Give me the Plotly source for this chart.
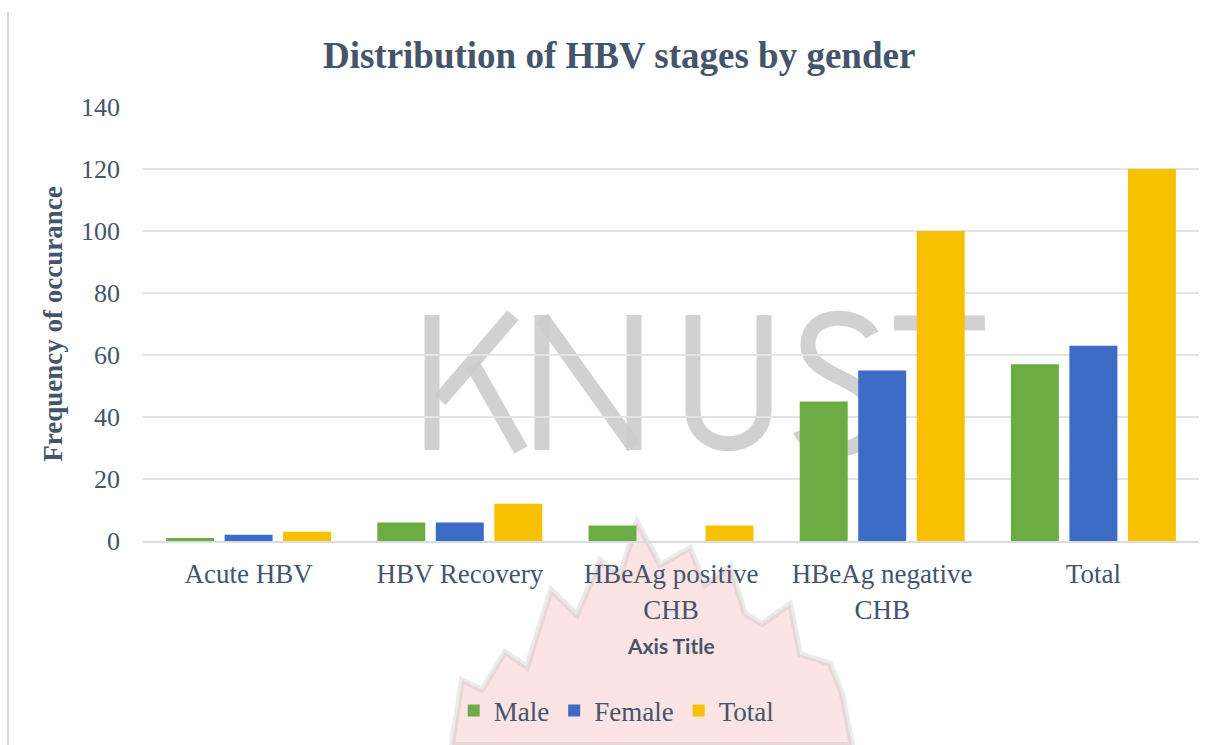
import plotly.graph_objects as go

categories = ["Acute HBV", "HBV Recovery", "HBeAg positive<br>CHB", "HBeAg negative<br>CHB", "Total"]
male = [1, 6, 5, 45, 57]
female = [2, 6, 0, 55, 63]
total = [3, 12, 5, 100, 120]
series_names = ["Male", "Female", "Total"]
series_colors = ["#6DAB43", "#3D6CC6", "#F7C000"]

TEXT = "#44546A"
SERIF = "Liberation Serif, Times New Roman, serif"

fig = go.Figure()
for name, vals, col in zip(series_names, [male, female, total], series_colors):
    fig.add_trace(go.Bar(name=name, x=categories, y=vals, marker=dict(color=col, line=dict(width=0))))

# plot area in pixels (for decorative watermark shapes)
L, R, T, B = 143, 1199, 107, 541
def px(x, y):
    return (x - L) / (R - L), (B - y) / (B - T)

def path(points, close=False):
    s = ""
    for i, (x, y) in enumerate(points):
        a, b = px(x, y)
        s += ("M" if i == 0 else "L") + f"{a:.4f},{b:.4f} "
    if close:
        s += "Z"
    return s

shapes = []
# flame watermark (faint)
flame = [(452, 745), (462, 680), (482, 690), (505, 652), (527, 667), (551, 590), (577, 615),
         (600, 560), (620, 576), (637, 522), (660, 565), (690, 548), (705, 585), (730, 566),
         (745, 614), (762, 624), (790, 604), (800, 654), (830, 664), (842, 694), (852, 745)]
shapes.append(dict(type="path", path=path(flame, True), xref="paper", yref="paper", layer="below",
                   fillcolor="rgba(250,205,205,0.55)", line=dict(color="rgba(175,175,175,0.25)", width=6)))
# KNUST watermark letters
wm = dict(color="rgba(204,204,204,0.9)", width=15)
letters = [
    [(432, 315), (432, 450)],
    [(513, 315), (440, 400)],
    [(473, 365), (521, 450)],
    [(542, 450), (542, 315)],
    [(542, 318), (634, 447)],
    [(634, 450), (634, 315)],
    [(693, 315), (693, 410)],
    [(764, 315), (764, 410)],
    [(894, 323), (985, 323)],
    [(940, 323), (940, 450)],
]
for pts in letters:
    shapes.append(dict(type="path", path=path(pts), xref="paper", yref="paper", layer="below", line=wm))
# U bottom curve
a1 = px(693, 410); a2 = px(693, 455); a3 = px(764, 455); a4 = px(764, 410)
shapes.append(dict(type="path", xref="paper", yref="paper", layer="below", line=wm,
                   path=f"M{a1[0]:.4f},{a1[1]:.4f} C{a2[0]:.4f},{a2[1]:.4f} {a3[0]:.4f},{a3[1]:.4f} {a4[0]:.4f},{a4[1]:.4f}"))
# S (mostly hidden behind bars)
def cub(p0, c1, c2, p1):
    q = [px(*p) for p in (p0, c1, c2, p1)]
    return f"M{q[0][0]:.4f},{q[0][1]:.4f} C{q[1][0]:.4f},{q[1][1]:.4f} {q[2][0]:.4f},{q[2][1]:.4f} {q[3][0]:.4f},{q[3][1]:.4f}"
for seg in [((872, 335), (860, 312), (808, 310), (808, 345)),
            ((808, 345), (808, 380), (874, 375), (874, 415)),
            ((874, 415), (874, 458), (812, 458), (800, 430))]:
    shapes.append(dict(type="path", path=cub(*seg), xref="paper", yref="paper", layer="below", line=wm))
# left border of the chart frame
b1 = px(8, 12); b2 = px(8, 745)
shapes.append(dict(type="line", xref="paper", yref="paper", x0=b1[0], x1=b2[0], y0=b1[1], y1=b2[1],
                   line=dict(color="#D9D9D9", width=2), layer="below"))

fig.update_layout(
    width=1226, height=745,
    margin=dict(l=L, r=1226 - R, t=T, b=745 - B, autoexpand=False),
    paper_bgcolor="white", plot_bgcolor="rgba(0,0,0,0)",
    barmode="group", bargap=0.169, bargroupgap=0.18,
    title=dict(text="<b>Distribution of HBV stages by gender</b>", x=0.505, xref="container", xanchor="center",
               y=1 - 55 / 745, yref="container", yanchor="middle",
               font=dict(family=SERIF, size=37, color=TEXT)),
    font=dict(family=SERIF, color=TEXT, size=26),
    showlegend=True,
    legend=dict(orientation="h", xref="container", x=0.503, xanchor="center", yref="container",
                y=1 - 711 / 745, yanchor="middle", font=dict(family=SERIF, size=27, color=TEXT),
                bgcolor="rgba(0,0,0,0)", itemwidth=30, tracegroupgap=0),
    shapes=shapes,
    annotations=[dict(text="<b>Axis Title</b>", xref="paper", yref="paper", x=0.5, y=(B - 645) / (B - T),
                      showarrow=False, xanchor="center", yanchor="middle",
                      font=dict(family="Lato, Open Sans, sans-serif", size=21, color=TEXT))],
)
fig.update_xaxes(showgrid=False, showline=True, linecolor="#D9DDE3", linewidth=2, ticks="",
                 automargin=False,
                 tickfont=dict(family=SERIF, size=27, color=TEXT), ticklabelstandoff=8)
fig.update_yaxes(range=[0, 140], dtick=20, showgrid=True, gridcolor="#E1E4E9", gridwidth=2,
                 zeroline=False, showline=False, ticks="", automargin=False,
                 tickfont=dict(family=SERIF, size=26, color=TEXT), ticklabelstandoff=22,
                 title=dict(text="<b>Frequency of occurance</b>", standoff=10,
                            font=dict(family=SERIF, size=27, color=TEXT)))

fig.write_html("out.html", config={"displayModeBar": False},
               post_script="document.body.style.margin='0';")
